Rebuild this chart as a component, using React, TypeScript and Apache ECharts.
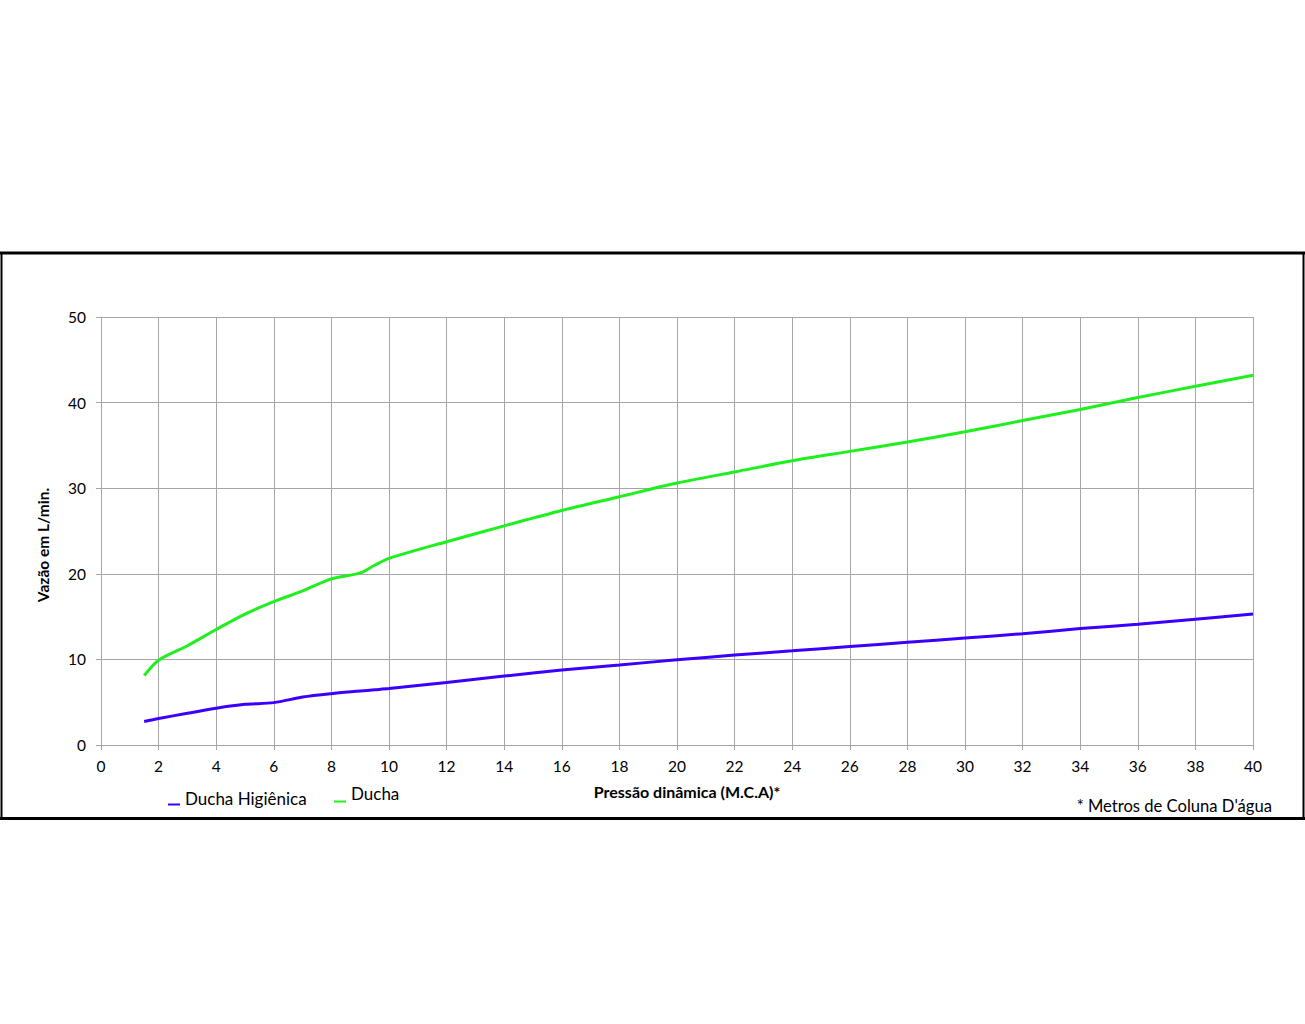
import React, { useEffect, useRef } from "react";
import * as echarts from "echarts";

const pressure = [1.5, 2, 3, 4, 5, 6, 7, 8, 9, 9.5, 10, 12, 14, 16, 18, 20, 22, 24, 26, 28, 30, 32, 34, 36, 38, 40];
const duchaHigienica = [2.75, 3.1, 3.7, 4.3, 4.75, 4.95, 5.6, 6.0, 6.3, 6.45, 6.6, 7.3, 8.05, 8.75, 9.35, 9.95, 10.5, 11.0, 11.5, 12.0, 12.5, 13.0, 13.6, 14.1, 14.7, 15.3];
const ducha = [8.1, 9.9, 11.6, 13.5, 15.3, 16.75, 18.0, 19.4, 20.1, 21.0, 21.8, 23.75, 25.6, 27.4, 29.0, 30.6, 31.9, 33.2, 34.3, 35.4, 36.6, 37.9, 39.2, 40.6, 41.9, 43.2];
const seriesNames = ["Ducha Higiênica", "Ducha"];
const xTitle = "Pressão dinâmica (M.C.A)*";
const yTitle = "Vazão em L/min.";
const footnote = "* Metros de Coluna D'água";

const FONT = "Lato, 'Open Sans', sans-serif";
const GRID_COLOR = "#a6a6a6";
const BLUE = "#3a00ff";
const GREEN = "#1df01d";

export default function App() {
  const ref = useRef<HTMLDivElement>(null);
  useEffect(() => {
    if (!ref.current) return;
    const chart = echarts.init(ref.current, undefined, { renderer: "svg" });
    const toPairs = (ys: number[]) => pressure.map((x, i) => [x, ys[i]]);
    chart.setOption({
      animation: false,
      backgroundColor: "#ffffff",
      textStyle: { fontFamily: FONT },
      grid: { left: 101, right: 52, top: 317, bottom: 279, containLabel: false },
      xAxis: {
        type: "value",
        min: 0,
        max: 40,
        interval: 2,
        axisLine: { show: true, lineStyle: { color: GRID_COLOR, width: 1 } },
        axisTick: { show: true, length: 5, lineStyle: { color: GRID_COLOR } },
        splitLine: { show: true, lineStyle: { color: GRID_COLOR, width: 1 } },
        axisLabel: { color: "#000", fontSize: 15.5, margin: 13, fontFamily: FONT },
      },
      yAxis: {
        type: "value",
        min: 0,
        max: 50,
        interval: 10,
        axisLine: { show: true, lineStyle: { color: GRID_COLOR, width: 1 } },
        axisTick: { show: true, length: 5, lineStyle: { color: GRID_COLOR } },
        splitLine: { show: true, lineStyle: { color: GRID_COLOR, width: 1 } },
        axisLabel: { color: "#000", fontSize: 15.5, margin: 15, fontFamily: FONT },
      },
      legend: [
        {
          data: [seriesNames[0]],
          left: 168,
          top: 790,
          icon: "rect",
          itemWidth: 12,
          itemHeight: 2,
          padding: 0,
          formatter: "{name}\n ",
          textStyle: { color: "#000", fontSize: 17, fontFamily: FONT, lineHeight: 12 },
        },
        {
          data: [seriesNames[1]],
          left: 334,
          top: 785,
          icon: "rect",
          itemWidth: 12,
          itemHeight: 2,
          padding: 0,
          formatter: "{name}\n ",
          textStyle: { color: "#000", fontSize: 17, fontFamily: FONT, lineHeight: 16 },
        },
      ],
      series: [
        {
          name: seriesNames[0],
          type: "line",
          data: toPairs(duchaHigienica),
          smooth: 0.3,
          showSymbol: false,
          symbol: "none",
          lineStyle: { color: BLUE, width: 3 },
          itemStyle: { color: BLUE },
        },
        {
          name: seriesNames[1],
          type: "line",
          data: toPairs(ducha),
          smooth: 0.3,
          showSymbol: false,
          symbol: "none",
          lineStyle: { color: GREEN, width: 3 },
          itemStyle: { color: GREEN },
        },
      ],
      graphic: [
        { type: "line", shape: { x1: 0, y1: 253, x2: 1305, y2: 253 }, style: { stroke: "#000", lineWidth: 3 } },
        { type: "line", shape: { x1: 0, y1: 818.5, x2: 1305, y2: 818.5 }, style: { stroke: "#000", lineWidth: 3 } },
        { type: "line", shape: { x1: 1.5, y1: 252, x2: 1.5, y2: 820 }, style: { stroke: "#000", lineWidth: 2 } },
        { type: "line", shape: { x1: 1303.5, y1: 252, x2: 1303.5, y2: 820 }, style: { stroke: "#000", lineWidth: 2 } },
        {
          type: "text",
          x: 687,
          y: 791,
          style: { text: xTitle, fill: "#000", font: `bold 16px ${FONT}`, align: "center", verticalAlign: "middle" },
        },
        {
          type: "text",
          x: 43,
          y: 545,
          rotation: Math.PI / 2,
          style: { text: yTitle, fill: "#000", font: `bold 15.5px ${FONT}`, align: "center", verticalAlign: "middle" },
        },
        {
          type: "text",
          x: 1272,
          y: 806,
          style: { text: footnote, fill: "#000", font: `16.6px ${FONT}`, align: "right", verticalAlign: "middle" },
        },
      ],
    });
    return () => chart.dispose();
  }, []);
  return (
    <div
      ref={ref}
      style={{ position: "absolute", left: 0, top: 0, width: 1305, height: 1024 }}
    />
  );
}
